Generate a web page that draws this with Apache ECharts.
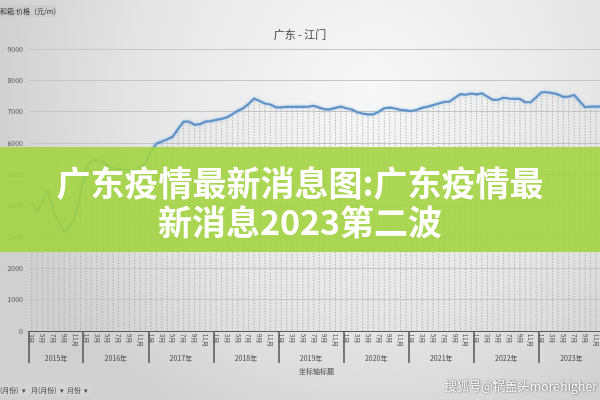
<!DOCTYPE html>
<html>
<head>
<meta charset="utf-8">
<script src="https://cdn.jsdelivr.net/npm/echarts@6/dist/echarts.min.js"></script>
<style>html,body{margin:0;padding:0;background:#ddd;}#c{width:600px;height:400px;}</style>
</head>
<body>
<div id="c"></div>
<script>
// ---- data ----
const years = ['2015', '2016', '2017', '2018', '2019', '2020', '2021', '2022', '2023'];
const firstMonth = { '2015': 3 };           // 2015 starts in March
const monthNames = ['1月','2月','3月','4月','5月','6月','7月','8月','9月','10月','11月','12月'];
const yTickLabels = ['0','1000','2000','3000','4000','5000','6000','7000','8000','9000'];
const prices = [
  // 2015 (Mar-Dec)
  4080, 3780, 4150, 4500, 3850, 3480, 3170, 3330, 3650, 4400,
  // 2016
  5200, 5450, 5460, 5420, 5280, 5200, 5150, 5180, 5120, 5150, 5250, 5350,
  // 2017
  5750, 5980, 6050, 6120, 6200, 6450, 6680, 6680, 6580, 6600, 6680, 6700,
  // 2018
  6740, 6770, 6820, 6920, 7030, 7110, 7250, 7420, 7340, 7260, 7230, 7140,
  // 2019
  7140, 7150, 7150, 7150, 7150, 7160, 7190, 7130, 7075, 7075, 7120, 7160,
  // 2020
  7110, 7070, 6980, 6940, 6915, 6915, 7000, 7110, 7130, 7100, 7055, 7040,
  // 2021
  7020, 7060, 7120, 7160, 7210, 7260, 7310, 7320, 7440, 7560, 7540, 7580,
  // 2022
  7550, 7585, 7480, 7375, 7380, 7445, 7420, 7410, 7410, 7300, 7300, 7460,
  // 2023
  7620, 7620, 7590, 7550, 7470, 7480, 7530, 7330, 7140, 7160, 7160, 7160
];
const chartTitle = '广东 - 江门';
const axisTitle = '坐标轴标题';
const bannerLines = ['广东疫情最新消息图:广东疫情最', '新消息2023第二波'];

// ---- categories built from the year/month lists ----
const categories = [];
const catYear = [];
const catMonth = [];
const yearLabelIdx = {};
years.forEach(y => {
  const start = firstMonth[y] || 1;
  const firstIdx = categories.length;
  for (let m = start; m <= 12; m++) {
    categories.push(y + '-' + m);
    catYear.push(y);
    catMonth.push(m);
  }
  const n = 12 - start + 1;
  yearLabelIdx[firstIdx + n / 2 - 1] = y;
});

const chart = echarts.init(document.getElementById('c'), null, { renderer: 'canvas' });
const FONT = '"Noto Sans CJK SC", "Noto Sans", sans-serif';

chart.setOption({
  animation: false,
  backgroundColor: {
    type: 'radial', x: 0.62, y: 0.22, r: 0.95,
    colorStops: [{ offset: 0, color: '#f8f8f8' }, { offset: 0.6, color: '#e6e6e6' }, { offset: 1, color: '#d0d0d0' }]
  },
  textStyle: { fontFamily: FONT },
  title: {
    text: chartTitle, left: 'center', top: 24,
    textStyle: { fontSize: 11, fontWeight: 'normal', color: '#404040', fontFamily: FONT }
  },
  grid: { left: 29, right: -4, top: 49, bottom: 69, containLabel: false, outerBoundsMode: 'none' },
  xAxis: [
    {
      type: 'category', data: categories, boundaryGap: true,
      axisLine: { onZero: false, lineStyle: { color: '#5a5a5a', width: 1 } },
      axisTick: { show: false },
      axisLabel: {
        interval: 1, rotate: -90, fontSize: 6, color: '#444', margin: 3,
        formatter: (v, i) => monthNames[catMonth[i] - 1]
      },
      splitLine: { show: false }
    },
    {
      type: 'category', data: categories, boundaryGap: true, position: 'bottom',
      axisLine: { show: false, onZero: false },
      axisTick: {
        show: true, length: 32, alignWithLabel: false,
        interval: (i) => i === 0 || catMonth[i] === 1,
        lineStyle: { color: '#555', width: 1.5 }
      },
      axisLabel: {
        interval: (i) => yearLabelIdx[i] !== undefined,
        margin: 24, fontSize: 7, color: '#444',
        formatter: (v, i) => '{y|' + catYear[i] + '年}',
        rich: { y: { fontSize: 7, color: '#444', padding: [0, 0, 0, 5.4], fontFamily: FONT } }
      },
      name: axisTitle, nameLocation: 'middle', nameGap: 37,
      nameTextStyle: { fontSize: 7, color: '#444', fontFamily: FONT },
      splitLine: { show: false }
    }
  ],
  yAxis: {
    type: 'value', min: 0, max: 9000, interval: 1000,
    axisLine: { show: false }, axisTick: { show: false },
    axisLabel: { fontSize: 7, color: '#555', margin: 6, formatter: (v) => yTickLabels[Math.round(v / 1000)] },
    splitLine: { lineStyle: { color: '#c6c6c6', width: 1 } },
    name: axisTitle, nameLocation: 'middle', nameGap: 23, nameRotate: 90,
    nameTextStyle: { fontSize: 6, color: '#777', fontFamily: FONT }
  },
  series: [
    {
      type: 'custom', z: 1,
      data: prices.map((v, i) => [i, v]),
      encode: { x: 0, y: 1 },
      renderItem: (params, api) => {
        const top = api.coord([api.value(0), api.value(1)]);
        const bot = api.coord([api.value(0), 0]);
        return {
          type: 'line',
          shape: { x1: top[0], y1: top[1], x2: bot[0], y2: bot[1] },
          style: { stroke: '#a8a8a8', lineWidth: 0.8, lineDash: [1.5, 1.5] }
        };
      },
      silent: true
    },
    {
      type: 'line', data: prices, symbol: 'none', z: 3,
      lineStyle: { color: '#5f93c9', width: 2.2, shadowColor: 'rgba(120,170,220,0.6)', shadowBlur: 3 }
    }
  ],
  graphic: [
    { type: 'rect', z: 100, shape: { x: -4, y: 5, width: 60, height: 12, r: 2 }, style: { fill: '#cdcdcd' } },
    { type: 'text', z: 101, x: 0, y: 11, style: { text: '和箱:价格（元/m）', fontSize: 7, fill: '#333', verticalAlign: 'middle', fontFamily: FONT } },

    { type: 'rect', z: 100, shape: { x: -4, y: 384, width: 33, height: 12, r: 2 }, style: { fill: '#d4d4d4' } },
    { type: 'text', z: 101, x: 0, y: 390, style: { text: '(月份)  ▾', fontSize: 7, fill: '#444', verticalAlign: 'middle', fontFamily: FONT } },
    { type: 'rect', z: 100, shape: { x: 30, y: 384, width: 35, height: 12, r: 2 }, style: { fill: '#d4d4d4' } },
    { type: 'text', z: 101, x: 31, y: 390, style: { text: '月(月份)  ▾', fontSize: 7, fill: '#444', verticalAlign: 'middle', fontFamily: FONT } },
    { type: 'rect', z: 100, shape: { x: 66, y: 384, width: 26, height: 12, r: 2 }, style: { fill: '#d4d4d4' } },
    { type: 'text', z: 101, x: 67, y: 390, style: { text: '月份  ▾', fontSize: 7, fill: '#444', verticalAlign: 'middle', fontFamily: FONT } },

    { type: 'rect', z: 200, shape: { x: 0, y: 147, width: 600, height: 105 }, style: { fill: 'rgba(163,212,68,0.9)' } },
    { type: 'text', z: 201, x: 300, y: 183, style: { text: bannerLines[0], fontSize: 34, fontWeight: 'bold', fill: '#ffffff', align: 'center', verticalAlign: 'middle', fontFamily: FONT } },
    { type: 'text', z: 201, x: 300, y: 222, style: { text: bannerLines[1], fontSize: 34, fontWeight: 'bold', fill: '#ffffff', align: 'center', verticalAlign: 'middle', fontFamily: FONT } },

    { type: 'text', z: 210, x: 597, y: 386, style: { text: '搜狐号@锅盖头morehigher', fontSize: 12.3, fill: '#ffffff', align: 'right', verticalAlign: 'middle', fontFamily: FONT, textShadowColor: 'rgba(0,0,0,0.7)', textShadowBlur: 2, textShadowOffsetX: 0.5, textShadowOffsetY: 0.5 } }
  ]
});
</script>
</body>
</html>
